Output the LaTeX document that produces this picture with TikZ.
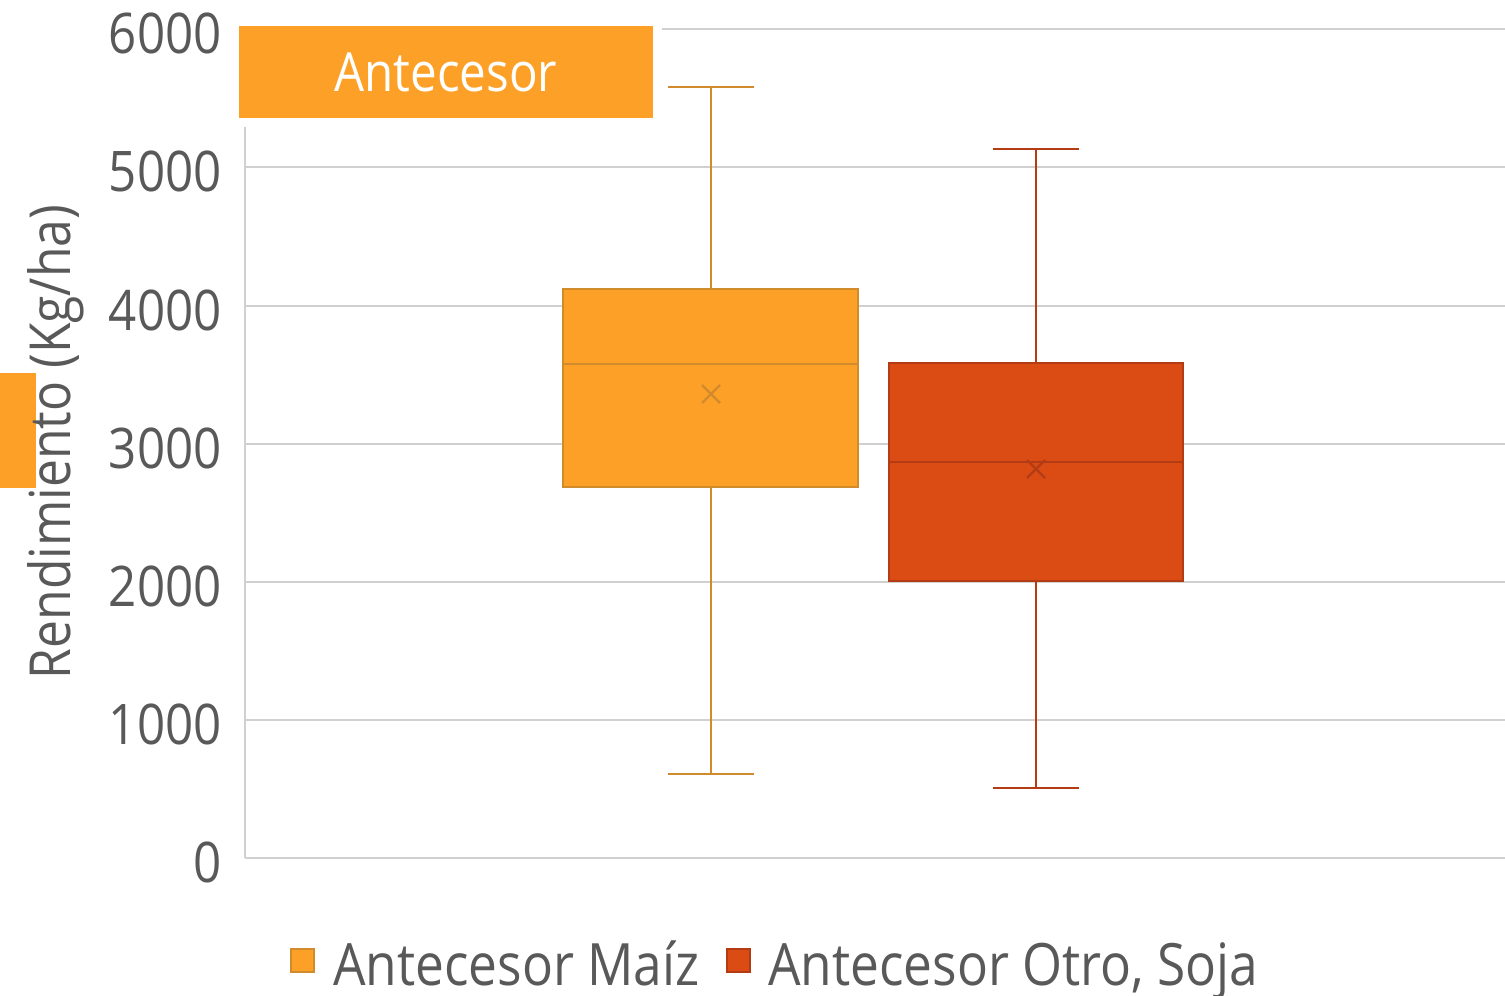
\documentclass[tikz,border=0pt]{standalone}
\usepackage{fontspec}
\setmainfont{Open Sans}[FakeStretch=0.88]
\definecolor{maiz}{HTML}{FDA027}
\definecolor{maizd}{HTML}{D18A2C}
\definecolor{otro}{HTML}{DB4B14}
\definecolor{otrod}{HTML}{B33C14}
\definecolor{gridc}{HTML}{D0D0D0}
\definecolor{txt}{HTML}{595959}
\tikzset{
  gridline/.style={draw=gridc, line width=1.2pt},
  ticklab/.style={anchor=east, text=txt, inner sep=0pt, font=\fontsize{28}{30}\selectfont},
  whisk/.style={line width=1.3pt},
  boxm/.style={fill=maiz, draw=maizd, line width=1.3pt},
  boxo/.style={fill=otro, draw=otrod, line width=1.3pt},
  legtext/.style={anchor=base west, text=txt, inner sep=0pt, font=\fontsize{29.2}{31}\selectfont},
}
\begin{document}
\begin{tikzpicture}[x=0.5pt,y=-0.5pt]
\useasboundingbox (0,0) rectangle (1505,996);
% grid
\foreach \yy in {167,306,444,582,720}
  \draw[gridline] (245,\yy) -- (1505,\yy);
\draw[gridline] (662,29) -- (1505,29);
\draw[gridline] (245,127) -- (245,858);
\draw[gridline] (245,858) -- (1505,858);
% tick labels
\node[ticklab] (t6) at (222,33) {6000};
\node[ticklab] (t5) at (222,171) {5000};
\node[ticklab] (t4) at (222,310) {4000};
\node[ticklab] (t3) at (222,448) {3000};
\node[ticklab] (t2) at (222,586) {2000};
\node[ticklab] (t1) at (222,724) {1000};
\node[ticklab] (t0) at (222,862) {0};
% left orange strip
\fill[maiz] (0,373) rectangle (36,488);
% axis title
\node[rotate=90, text=txt, inner sep=0pt, font=\fontsize{28.3}{30}\selectfont] (ytitle) at (56,442) {Rendimiento (Kg/ha)};
% title box
\node[fill=maiz, minimum width=207pt, minimum height=46pt, inner sep=0pt, text=white, font=\fontsize{27}{29}\selectfont] (tbox) at (446,72) {Antecesor};
% Maiz box plot
\draw[whisk, maizd] (711,87) -- (711,289) (711,487) -- (711,774);
\draw[whisk, maizd] (668,87) -- (754,87) (668,774) -- (754,774);
\draw[boxm] (563,289) rectangle (858,487);
\draw[whisk, maizd] (563,364) -- (858,364);
\draw[maizd, line width=1.1pt] (702,385) -- (720,403) (702,403) -- (720,385);
% Otro box plot
\draw[whisk, otrod] (1036,149) -- (1036,363) (1036,581) -- (1036,788);
\draw[whisk, otrod] (993,149) -- (1079,149) (993,788) -- (1079,788);
\draw[boxo] (889,363) rectangle (1183,581);
\draw[whisk, otrod] (889,462) -- (1183,462);
\draw[otrod, line width=1.1pt] (1027,460) -- (1045,478) (1027,478) -- (1045,460);
% legend
\draw[fill=maiz, draw=maizd, line width=1.1pt] (291,949) rectangle (314,972);
\node[legtext] (l1) at (333,985) {Antecesor Maíz};
\draw[fill=otro, draw=otrod, line width=1.1pt] (727,949) rectangle (750,972);
\node[legtext] (l2) at (768,985) {Antecesor Otro, Soja};
\end{tikzpicture}
\end{document}
